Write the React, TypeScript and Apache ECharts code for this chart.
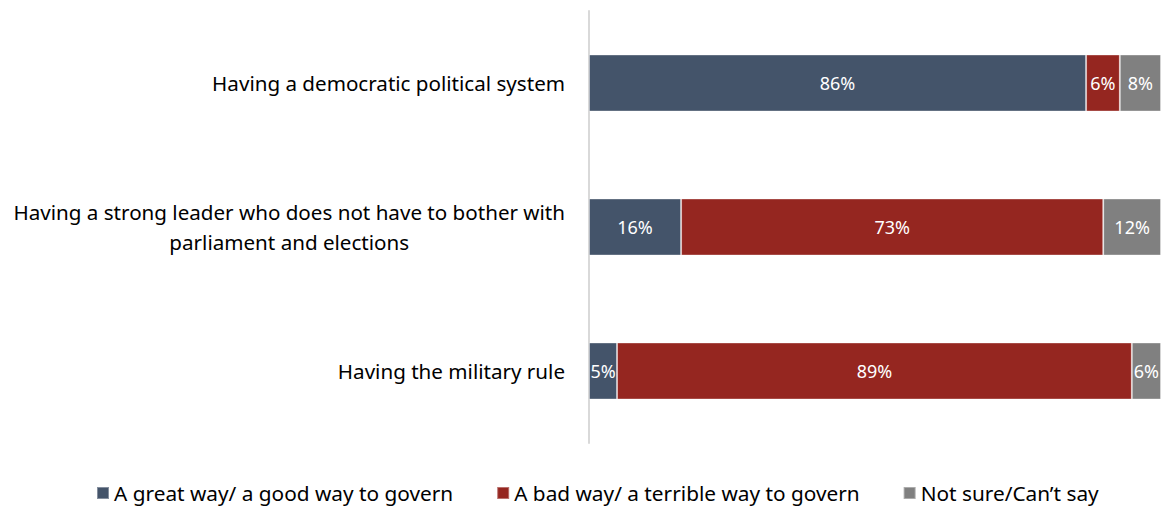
import React, { useEffect, useRef } from "react";
import * as echarts from "echarts";

const categories = [
  "Having a democratic political system",
  "Having a strong leader who does not have to bother with\nparliament and elections",
  "Having the military rule",
];
const seriesNames = [
  "A great way/ a good way to govern",
  "A bad way/ a terrible way to govern",
  "Not sure/Can\u2019t say",
];
const goodValues = [86.9, 16.1, 4.9];
const badValues = [5.9, 73.8, 90.0];
const notSureValues = [7.2, 10.1, 5.1];
const goodLabels = ["86%", "16%", "5%"];
const badLabels = ["6%", "73%", "89%"];
const notSureLabels = ["8%", "12%", "6%"];
const colors = ["#44546A", "#952620", "#808080"];

const FONT = "'Noto Sans', sans-serif";

export default function App() {
  const ref = useRef<HTMLDivElement>(null);
  useEffect(() => {
    if (!ref.current) return;
    const chart = echarts.init(ref.current, null, { renderer: "svg" });
    const mk = (name: string, values: number[], labels: string[], color: string) => ({
      name,
      type: "bar",
      stack: "total",
      barWidth: 57,
      data: values,
      itemStyle: { color, borderColor: "rgba(255,255,255,0.35)", borderWidth: 1 },
      label: {
        show: true,
        position: "inside",
        color: "#ffffff",
        fontFamily: FONT,
        fontSize: 18,
        formatter: (p: any) => labels[p.dataIndex],
      },
    });
    chart.setOption({
      animation: false,
      color: colors,
      grid: { left: 589, right: 3, top: 11, bottom: 63, containLabel: false },
      xAxis: {
        type: "value",
        min: 0,
        max: 100,
        show: false,
      },
      yAxis: {
        type: "category",
        inverse: true,
        data: categories,
        axisLine: { show: true, lineStyle: { color: "#D9D9D9", width: 2 } },
        axisTick: { show: false },
        axisLabel: {
          margin: 24,
          formatter: (v: string) =>
            v
              .split("\n")
              .map((l) => "{c|" + l + "}")
              .join("\n"),
          rich: {
            c: {
              align: "center",
              fontFamily: FONT,
              fontSize: 20.6,
              color: "#000000",
              lineHeight: 30,
            },
          },
        },
      },
      legend: {
        left: 96,
        top: 481,
        padding: 0,
        itemWidth: 12,
        itemHeight: 12,
        itemGap: 43,
        icon: "rect",
        textStyle: {
          fontFamily: FONT,
          fontSize: 20.8,
          lineHeight: 24,
          color: "#000000",
          padding: [0, 0, 0, 0],
        },
        data: seriesNames,
      },
      series: [
        mk(seriesNames[0], goodValues, goodLabels, colors[0]),
        mk(seriesNames[1], badValues, badLabels, colors[1]),
        mk(seriesNames[2], notSureValues, notSureLabels, colors[2]),
      ],
    });
    return () => chart.dispose();
  }, []);
  return (
    <div
      ref={ref}
      style={{ position: "absolute", left: 0, top: 0, width: 1164, height: 506, background: "#ffffff" }}
    />
  );
}
